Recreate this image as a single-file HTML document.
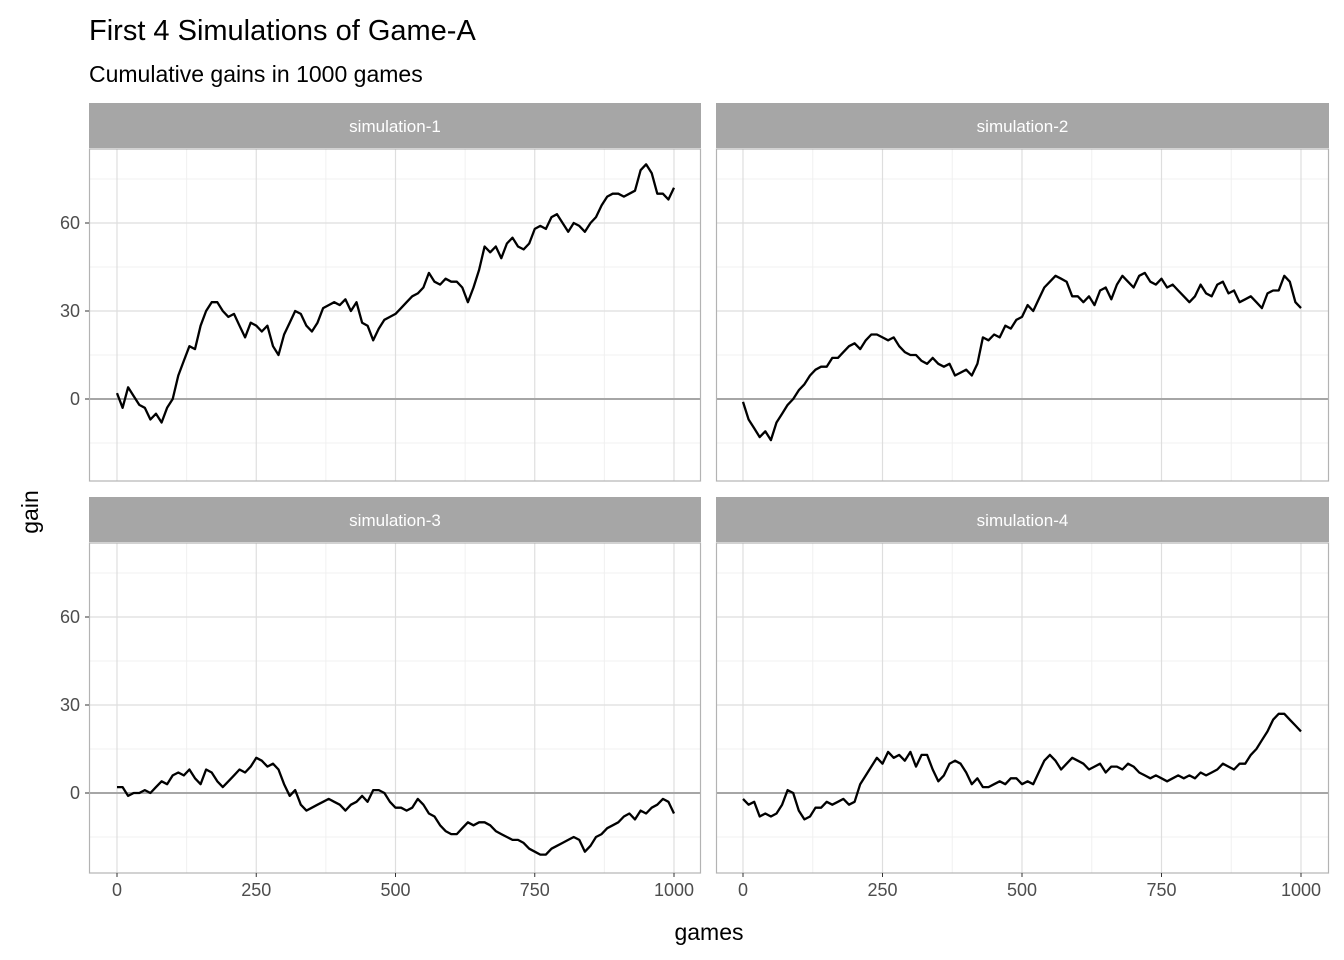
<!DOCTYPE html>
<html><head><meta charset="utf-8">
<style>
body{margin:0;background:#fff;}
svg{display:block;font-family:"Liberation Sans",Arial,sans-serif;}
</style></head>
<body>
<svg id="chart" width="1344" height="960">
<text x="89" y="40" font-size="29" fill="#000">First 4 Simulations of Game-A</text>
<text x="89" y="82" font-size="23" fill="#000">Cumulative gains in 1000 games</text>
<text x="709" y="940" font-size="23" text-anchor="middle" fill="#000">games</text>
<text transform="translate(38,512) rotate(-90)" font-size="23" text-anchor="middle" fill="#000">gain</text>
</svg>
<script>
const xTicks=[0,250,500,750,1000];
const xMinor=[125,375,625,875];
const yTicks=[0,30,60];
const yMinor=[-15,15,45,75];
const panelNames=["simulation-1","simulation-2","simulation-3","simulation-4"];
const sim1=[2,-3,4,1,-2,-3,-7,-5,-8,-3,0,8,13,18,17,25,30,33,33,30,28,29,25,21,26,25,23,25,18,15,22,26,30,29,25,23,26,31,32,33,32,34,30,33,26,25,20,24,27,28,29,31,33,35,36,38,43,40,39,41,40,40,38,33,38,44,52,50,52,48,53,55,52,51,53,58,59,58,62,63,60,57,60,59,57,60,62,66,69,70,70,69,70,71,78,80,77,70,70,68,72];
const sim2=[-1,-7,-10,-13,-11,-14,-8,-5,-2,0,3,5,8,10,11,11,14,14,16,18,19,17,20,22,22,21,20,21,18,16,15,15,13,12,14,12,11,12,8,9,10,8,12,21,20,22,21,25,24,27,28,32,30,34,38,40,42,41,40,35,35,33,35,32,37,38,34,39,42,40,38,42,43,40,39,41,38,39,37,35,33,35,39,36,35,39,40,36,37,33,34,35,33,31,36,37,37,42,40,33,31];
const sim3=[2,2,-1,0,0,1,0,2,4,3,6,7,6,8,5,3,8,7,4,2,4,6,8,7,9,12,11,9,10,8,3,-1,1,-4,-6,-5,-4,-3,-2,-3,-4,-6,-4,-3,-1,-3,1,1,0,-3,-5,-5,-6,-5,-2,-4,-7,-8,-11,-13,-14,-14,-12,-10,-11,-10,-10,-11,-13,-14,-15,-16,-16,-17,-19,-20,-21,-21,-19,-18,-17,-16,-15,-16,-20,-18,-15,-14,-12,-11,-10,-8,-7,-9,-6,-7,-5,-4,-2,-3,-7];
const sim4=[-2,-4,-3,-8,-7,-8,-7,-4,1,0,-6,-9,-8,-5,-5,-3,-4,-3,-2,-4,-3,3,6,9,12,10,14,12,13,11,14,9,13,13,8,4,6,10,11,10,7,3,5,2,2,3,4,3,5,5,3,4,3,7,11,13,11,8,10,12,11,10,8,9,10,7,9,9,8,10,9,7,6,5,6,5,4,5,6,5,6,5,7,6,7,8,10,9,8,10,10,13,15,18,21,25,27,27,25,23,21];
const series=[sim1,sim2,sim3,sim4];
const gameStep=10;

const NS="http://www.w3.org/2000/svg";
const svg=document.getElementById("chart");
function mk(tag,attrs,parent){const e=document.createElementNS(NS,tag);for(const k in attrs)e.setAttribute(k,attrs[k]);(parent||svg).appendChild(e);return e;}

const cols=[{x0:89,x1:701,zx:117,ox:674},{x0:716,x1:1329,zx:743,ox:1301}];
const rows=[{s0:103,p0:149,p1:481,z:399,s60:223},{s0:497,p0:543,p1:873,z:793,s60:617}];

panelNames.forEach((name,i)=>{
  const c=cols[i%2],r=rows[Math.floor(i/2)];
  const sx=v=>c.zx+(c.ox-c.zx)*v/1000;
  const sy=v=>r.z+(r.s60-r.z)*v/60;
  const g=mk("g",{});
  
  
  mk("rect",{x:c.x0,y:r.p0,width:c.x1-c.x0,height:r.p1-r.p0,fill:"#fff"},g);
  xMinor.forEach(v=>mk("line",{x1:sx(v),x2:sx(v),y1:r.p0,y2:r.p1,stroke:"#f0f0f0","stroke-width":1},g));
  yMinor.forEach(v=>{const y=sy(v);if(y>r.p0&&y<r.p1)mk("line",{x1:c.x0,x2:c.x1,y1:y,y2:y,stroke:"#f0f0f0","stroke-width":1},g);});
  xTicks.forEach(v=>mk("line",{x1:sx(v),x2:sx(v),y1:r.p0,y2:r.p1,stroke:"#dedede","stroke-width":1.2},g));
  yTicks.forEach(v=>mk("line",{x1:c.x0,x2:c.x1,y1:sy(v),y2:sy(v),stroke:"#dedede","stroke-width":1.2},g));
  const zl=mk("line",{x1:c.x0,x2:c.x1,y1:sy(0),y2:sy(0),stroke:"#a6a6a6","stroke-width":2},g);
  
  
  const pts=series[i].map((v,k)=>sx(k*gameStep).toFixed(1)+","+sy(v).toFixed(1)).join(" ");
  const pl=mk("polyline",{points:pts,fill:"none",stroke:"#000","stroke-width":2.3,"stroke-linejoin":"round"},g);
  
  
  mk("rect",{x:c.x0+0.5,y:r.p0,width:c.x1-c.x0-1,height:r.p1-r.p0,fill:"none",stroke:"#b3b3b3","stroke-width":1.2},g);
  const st=mk("rect",{x:c.x0,y:r.s0,width:c.x1-c.x0,height:r.p0-r.s0-1,fill:"#a6a6a6"},g);
  
  
  const tx=mk("text",{x:(c.x0+c.x1)/2,y:(r.s0+r.p0)/2+6,"text-anchor":"middle","font-size":17,fill:"#fff"},g);
  tx.textContent=name;
  
  
  if(i%2===0){
    yTicks.forEach(v=>{
      mk("line",{x1:c.x0-4,x2:c.x0,y1:sy(v),y2:sy(v),stroke:"#333","stroke-width":1},g);
      const t=mk("text",{x:c.x0-9,y:sy(v)+6,"text-anchor":"end","font-size":18,fill:"#4d4d4d"},g);
      t.textContent=v;
      
      
    });
  }
  if(r===rows[1]){
    xTicks.forEach(v=>{
      mk("line",{x1:sx(v),x2:sx(v),y1:r.p1,y2:r.p1+4,stroke:"#333","stroke-width":1},g);
      const t=mk("text",{x:sx(v),y:r.p1+23,"text-anchor":"middle","font-size":18,fill:"#4d4d4d"},g);
      t.textContent=v;
      
      
    });
  }
});
</script>
</body></html>
